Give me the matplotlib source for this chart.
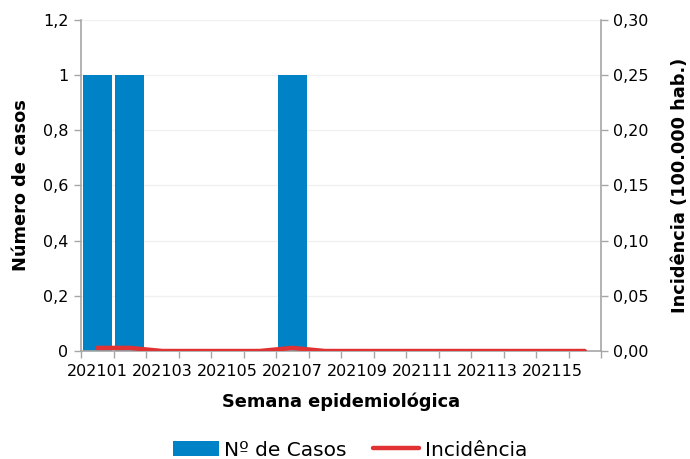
import numpy as np
import matplotlib
matplotlib.use("Agg")
import matplotlib.pyplot as plt

# ---- data ----------------------------------------------------------------
semanas = ["202101", "202102", "202103", "202104", "202105", "202106", "202107", "202108",
           "202109", "202110", "202111", "202112", "202113", "202114", "202115", "202116"]
casos = [1, 1, 0, 0, 0, 0, 1, 0, 0, 0, 0, 0, 0, 0, 0, 0]
incidencia = [0.0028, 0.0028, 0, 0, 0, 0, 0.0028, 0, 0, 0, 0, 0, 0, 0, 0, 0]
yl_ticks = [0, 0.2, 0.4, 0.6, 0.8, 1.0, 1.2]
yl_labels = ["0", "0,2", "0,4", "0,6", "0,8", "1", "1,2"]
yr_ticks = [0, 0.05, 0.10, 0.15, 0.20, 0.25, 0.30]
yr_labels = ["0,00", "0,05", "0,10", "0,15", "0,20", "0,25", "0,30"]

BLUE = "#0083C6"; RED = "#E03232"; GREY = "#A6A6A6"
plt.rcParams["font.family"] = ["DejaVu Sans"]

fig = plt.figure(figsize=(6.9, 4.59), dpi=100)
ax = fig.add_axes([81/690, 1 - 351/459, 520/690, 331/459])
x = np.arange(len(semanas))
bars = ax.bar(x, casos, width=0.88, color=BLUE, zorder=2)
ax.set_xlim(-0.5, len(semanas) - 0.5)
ax.set_ylim(0, 1.2)
ax.set_yticks(yl_ticks); ax.set_yticklabels(yl_labels, fontsize=11.5)
ax.grid(axis="y", color="#F0F0F0", lw=1, zorder=0)
ax.set_axisbelow(True)

# category ticks between bars, labels on every other category
ax.set_xticks(x[::2]); ax.set_xticklabels(semanas[::2], fontsize=11.5)
ax.set_xticks(np.arange(-0.5, len(semanas)), minor=True)
ax.tick_params(axis="x", which="major", length=0, pad=9)
ax.tick_params(axis="x", which="minor", length=5, color=GREY, width=1)
ax.tick_params(axis="y", length=5, color=GREY, width=1, pad=4)
for s in ["top", "right"]:
    ax.spines[s].set_visible(False)
for s in ["left", "bottom"]:
    ax.spines[s].set_color(GREY); ax.spines[s].set_linewidth(1.2)
ax.set_ylabel("Número de casos", fontsize=12.8, fontweight="bold", labelpad=9)
ax.set_xlabel("Semana epidemiológica", fontsize=12.8, fontweight="bold", labelpad=10)

ax2 = ax.twinx()
line, = ax2.plot(x, incidencia, color=RED, lw=3.2, solid_capstyle="round", solid_joinstyle="round", zorder=3)
ax2.set_ylim(0, 0.30)
ax2.set_yticks(yr_ticks); ax2.set_yticklabels(yr_labels, fontsize=11.5)
ax2.tick_params(axis="y", length=5, color=GREY, width=1, pad=4)
for s in ["top", "left", "bottom"]:
    ax2.spines[s].set_visible(False)
ax2.spines["right"].set_color(GREY); ax2.spines["right"].set_linewidth(1.2)
ax2.set_ylabel("Incidência (100.000 hab.)", fontsize=12.8, fontweight="bold", labelpad=16)

fig.legend([bars, line], ["Nº de Casos", "Incidência"], loc="center", ncol=2,
           bbox_to_anchor=(350/690, 1 - 450/459), frameon=False, fontsize=14.5,
           handlelength=2.3, handleheight=0.7, handletextpad=0.25, columnspacing=1.3)

fig.savefig("out.png", dpi=100)
